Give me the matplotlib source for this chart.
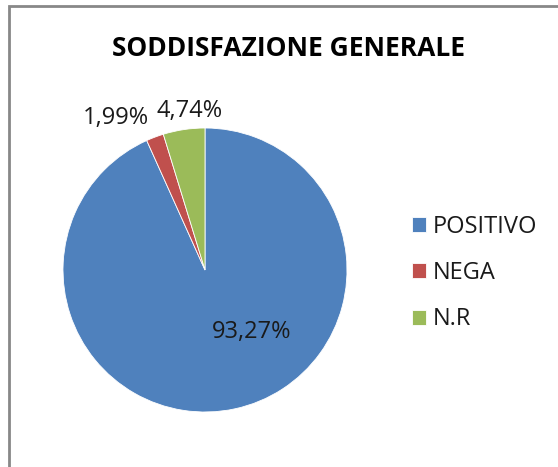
import matplotlib
matplotlib.use("Agg")
import matplotlib.pyplot as plt
from matplotlib.patches import Rectangle

# data
categories = ["POSITIVO", "NEGA", "N.R"]
values = [93.27, 1.99, 4.74]
value_labels = ["93,27%", "1,99%", "4,74%"]
colors = ["#4F81BD", "#C0504D", "#9BBB59"]

plt.rcParams['font.family'] = ['Open Sans', 'DejaVu Sans']

fig = plt.figure(figsize=(5.58, 4.67), dpi=100)

# chart border (cut off on the right and bottom, like the screenshot)
fig.add_artist(Rectangle((9 / 558, -0.1), 1.2, (467 - 6) / 467 + 0.1,
                         transform=fig.transFigure, fill=False,
                         edgecolor="#888888", linewidth=2))

ax = fig.add_axes([63 / 558, 55 / 467, 284 / 558, 284 / 467])
wedges, _ = ax.pie(values, colors=colors, startangle=90, counterclock=False,
                   wedgeprops=dict(edgecolor="white", linewidth=0.6))
ax.set_xlim(-1, 1)
ax.set_ylim(-1, 1)
ax.set_aspect("equal")

# label positions (layout), in pie data units
label_pos = [(0.33, -0.44), (-0.63, 1.07), (-0.11, 1.12)]
for (x, y), txt in zip(label_pos, value_labels):
    ax.text(x, y, txt, ha="center", va="center", fontsize=17, color="#1a1a1a",
            clip_on=False)

fig.text(288 / 558, 1 - 48 / 467, "SODDISFAZIONE GENERALE", ha="center",
         va="center", fontsize=19, fontweight="bold", color="black")

fig.legend(wedges, categories, loc="center left",
           bbox_to_anchor=(400 / 558, 1 - 273 / 467), frameon=False,
           borderpad=0, fontsize=17, handlelength=0.6, handleheight=0.6,
           handletextpad=0.3, labelspacing=0.95, labelcolor="#1a1a1a")

fig.savefig("out.png", dpi=100)
